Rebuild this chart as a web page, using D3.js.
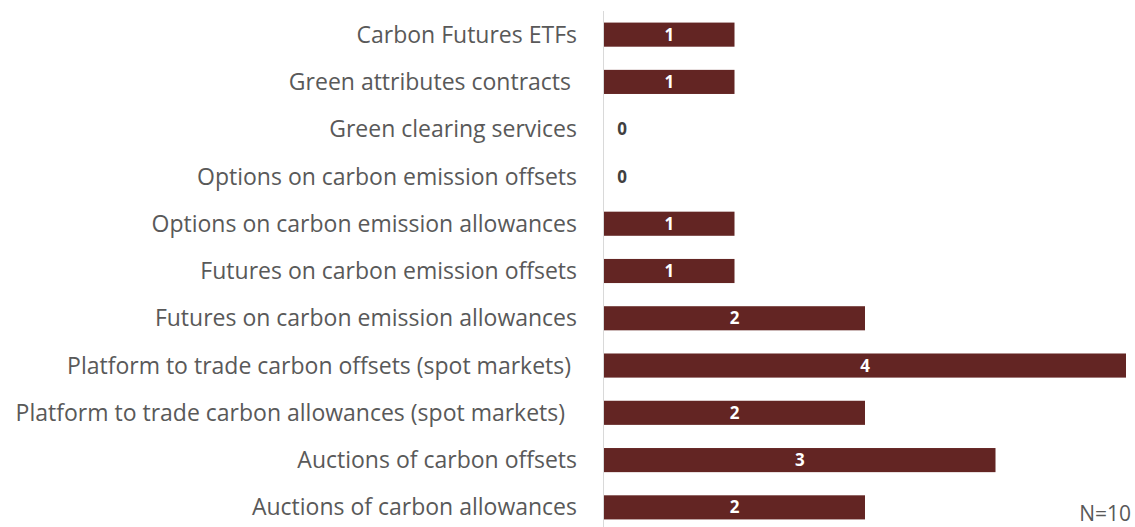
<!DOCTYPE html>
<html>
<head>
<meta charset="utf-8">
<script src="https://cdn.jsdelivr.net/npm/d3@7"></script>
<style>
  html, body { margin: 0; padding: 0; background: #ffffff; }
  svg { display: block; }
</style>
</head>
<body>
<svg id="chart" width="1135" height="527"></svg>
<script>
const categories = [
  "Carbon Futures ETFs",
  "Green attributes contracts ",
  "Green clearing services",
  "Options on carbon emission offsets",
  "Options on carbon emission allowances",
  "Futures on carbon emission offsets",
  "Futures on carbon emission allowances",
  "Platform to trade carbon offsets (spot markets) ",
  "Platform to trade carbon allowances (spot markets)  ",
  "Auctions of carbon offsets",
  "Auctions of carbon allowances"
];
const values = [1, 1, 0, 0, 1, 1, 2, 4, 2, 3, 2];
const noteText = "N=10";

const svg = d3.select("#chart");
const W = 1135, H = 527;

const x = d3.scaleLinear().domain([0, 4]).range([604, 1126]);
const y = d3.scaleBand().domain(categories).range([11, 531]).paddingInner(0.49).paddingOuter(0.245);

const labelFont = "'Open Sans', 'Noto Sans', sans-serif";

// category labels
svg.append("g").selectAll("text")
  .data(categories)
  .join("text")
  .attr("x", 577)
  .attr("y", d => y(d) + y.bandwidth() / 2)
  .attr("dy", "0.35em")
  .attr("text-anchor", "end")
  .attr("xml:space", "preserve")
  .style("white-space", "pre")
  .attr("font-family", labelFont)
  .attr("font-size", 23)
  .attr("fill", "#595959")
  .text(d => d);

// bars
svg.append("g").selectAll("rect")
  .data(values.map((v, i) => ({ c: categories[i], v })))
  .join("rect")
  .attr("x", x(0))
  .attr("y", d => y(d.c))
  .attr("width", d => x(d.v) - x(0))
  .attr("height", y.bandwidth())
  .attr("fill", "#632523");

// axis line
svg.append("line")
  .attr("x1", x(0) - 0.5).attr("x2", x(0) - 0.5)
  .attr("y1", 11).attr("y2", H)
  .attr("stroke", "#d9d9d9")
  .attr("stroke-width", 1);

// value labels
svg.append("g").selectAll("text")
  .data(values.map((v, i) => ({ c: categories[i], v })))
  .join("text")
  .attr("x", d => d.v > 0 ? (x(0) + x(d.v)) / 2 : x(0) + 18)
  .attr("y", d => y(d.c) + y.bandwidth() / 2)
  .attr("dy", "0.36em")
  .attr("text-anchor", "middle")
  .attr("font-family", labelFont)
  .attr("font-weight", "bold")
  .attr("font-size", 17)
  .attr("fill", d => d.v > 0 ? "#ffffff" : "#404040")
  .text(d => d.v);

// note
svg.append("text")
  .attr("x", 1131)
  .attr("y", 521)
  .attr("text-anchor", "end")
  .attr("font-family", labelFont)
  .attr("font-size", 21)
  .attr("fill", "#595959")
  .text(noteText);
</script>
</body>
</html>
